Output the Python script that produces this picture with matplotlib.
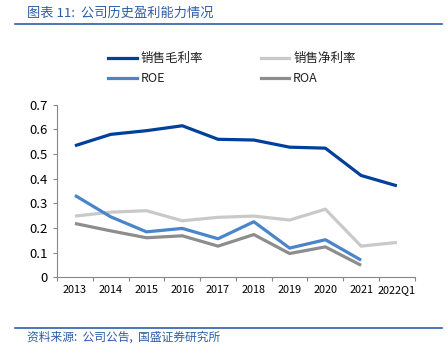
import numpy as np
import matplotlib
matplotlib.use('Agg')
import matplotlib.pyplot as plt
from matplotlib.lines import Line2D

plt.rcParams['font.family'] = ['Noto Sans CJK SC', 'DejaVu Sans']

years = ['2013', '2014', '2015', '2016', '2017', '2018', '2019', '2020', '2021', '2022Q1']
gross = [0.534, 0.580, 0.595, 0.615, 0.560, 0.557, 0.528, 0.524, 0.413, 0.371]
net = [0.248, 0.264, 0.270, 0.229, 0.243, 0.248, 0.232, 0.276, 0.126, 0.141]
roe = [0.332, 0.245, 0.184, 0.198, 0.156, 0.225, 0.118, 0.152, 0.069]
roa = [0.218, 0.188, 0.160, 0.168, 0.126, 0.173, 0.096, 0.123, 0.048]

names = ['销售毛利率', '销售净利率', 'ROE', 'ROA']
colors = ['#003F9A', '#C9C9C9', '#4A84C9', '#8D8D8D']

fig = plt.figure(figsize=(4.46, 3.59), dpi=100)
ax = fig.add_axes([0.128, 0.228, 0.802, 0.480])

x = np.arange(len(years))
for vals, c in zip([gross, net, roe, roa], colors):
    ax.plot(x[:len(vals)], vals, color=c, lw=2.3, solid_capstyle='butt')

ax.set_xlim(-0.5, len(years) - 0.5)
ax.set_ylim(0, 0.7)
ax.set_yticks(np.arange(0, 0.71, 0.1))
ax.set_yticklabels(['0'] + ['%.1f' % v for v in np.arange(0.1, 0.71, 0.1)], fontsize=9.5)
ax.set_xticks(np.arange(-0.5, len(years)), labels=[''] * (len(years) + 1))
ax.set_xticks(x, labels=years, minor=True)
ax.tick_params(axis='x', which='major', length=3, color='#888888', direction='out')
ax.tick_params(axis='x', which='minor', length=0, labelsize=7.8, pad=6)
ax.tick_params(axis='y', length=3, color='#888888', pad=4)
for s in ['top', 'right']:
    ax.spines[s].set_visible(False)
for s in ['left', 'bottom']:
    ax.spines[s].set_color('#888888')
    ax.spines[s].set_linewidth(0.8)

# legend fills by column, so order: col1 = gross, roe; col2 = net, roa
order = [0, 2, 1, 3]
handles = [Line2D([], [], color=colors[i], lw=2.3) for i in order]
fig.legend(handles, [names[i] for i in order], loc='center', bbox_to_anchor=(0.52, 0.809),
           ncol=2, frameon=False, fontsize=9, handlelength=2.3, handletextpad=0.3,
           columnspacing=4.6, labelspacing=0.55, labelcolor='#222222')

# title and footer
fig.text(0.06, 0.962, '图表 11:  公司历史盈利能力情况', color='#2E5DA8', fontsize=9.5,
         style='italic', va='center')
fig.add_artist(Line2D([0.034, 0.99], [0.933, 0.933], color='#2E5DA8', lw=1.2))
fig.add_artist(Line2D([0.034, 0.99], [0.086, 0.086], color='#2E5DA8', lw=1.2))
fig.text(0.06, 0.06, '资料来源:  公司公告,  国盛证券研究所', color='#2E5DA8', fontsize=8.5,
         style='italic', va='center')

fig.savefig('out.png', dpi=100)
